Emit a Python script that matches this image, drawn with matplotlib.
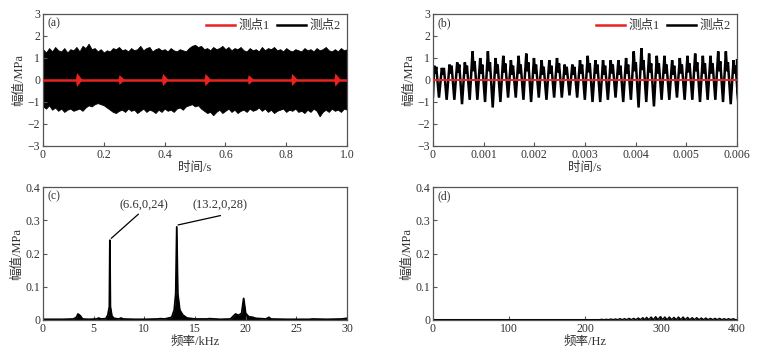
import matplotlib
matplotlib.use("Agg")
import matplotlib.pyplot as plt
import numpy as np

plt.rcParams['font.family'] = ['Liberation Serif', 'Noto Sans CJK SC']
plt.rcParams['axes.unicode_minus'] = True

# ---------------- data ----------------
# (a) envelope of 测点2 signal (t = 0..1 s, step 0.01)
a_time = [i / 100 for i in range(101)]
a_upper = [1.40,1.25,1.45,1.30,1.50,1.35,1.30,1.45,1.25,1.40,
           1.35,1.50,1.30,1.55,1.45,1.65,1.40,1.45,1.30,1.40,
           1.25,1.35,1.30,1.45,1.40,1.50,1.35,1.40,1.30,1.45,
           1.35,1.40,1.55,1.35,1.45,1.50,1.30,1.40,1.45,1.35,
           1.40,1.30,1.45,1.35,1.30,1.40,1.35,1.30,1.45,1.55,
           1.60,1.50,1.55,1.40,1.45,1.35,1.50,1.40,1.45,1.55,
           1.40,1.50,1.35,1.45,1.40,1.50,1.35,1.30,1.45,1.35,
           1.40,1.30,1.50,1.35,1.45,1.40,1.50,1.35,1.40,1.30,
           1.45,1.35,1.30,1.40,1.35,1.30,1.45,1.35,1.40,1.30,
           1.45,1.35,1.40,1.50,1.35,1.30,1.40,1.30,1.45,1.35,1.40]
a_lower = [-1.20,-1.30,-1.15,-1.35,-1.25,-1.40,-1.30,-1.45,-1.35,-1.30,
           -1.40,-1.35,-1.30,-1.40,-1.25,-1.15,-1.20,-1.10,-1.05,-1.10,
           -1.15,-1.25,-1.35,-1.45,-1.50,-1.40,-1.35,-1.45,-1.30,-1.40,
           -1.35,-1.50,-1.40,-1.30,-1.45,-1.35,-1.40,-1.50,-1.35,-1.45,
           -1.30,-1.40,-1.35,-1.45,-1.30,-1.25,-1.35,-1.20,-1.15,-1.10,
           -1.20,-1.15,-1.30,-1.40,-1.50,-1.45,-1.60,-1.45,-1.35,-1.50,
           -1.40,-1.30,-1.45,-1.35,-1.50,-1.40,-1.35,-1.45,-1.30,-1.40,
           -1.35,-1.25,-1.40,-1.30,-1.45,-1.35,-1.50,-1.40,-1.35,-1.30,
           -1.45,-1.35,-1.40,-1.30,-1.45,-1.40,-1.50,-1.35,-1.45,-1.30,
           -1.40,-1.65,-1.45,-1.35,-1.45,-1.30,-1.40,-1.35,-1.45,-1.30,-1.35]
# 测点1 pulses in (a)
a_pulse_times = [0.11, 0.25, 0.393, 0.533, 0.675, 0.818, 0.96]
a_pulse_amps = [0.32, 0.22, 0.28, 0.28, 0.22, 0.28, 0.30]

# (b) 测点2 waveform per cycle (fundamental 6.6 kHz)
b_f0 = 6.6e3
b_peaks = [0.65, 0.55, 0.70, 0.80, 0.80, 1.30, 1.00, 1.30, 1.00, 1.10,
           0.90, 1.10, 1.20, 1.00, 0.90, 0.90, 1.00, 0.70, 0.70, 0.90,
           1.10, 0.90, 0.90, 0.90, 0.90, 1.00, 1.30, 1.45, 1.20, 1.10,
           1.10, 0.90, 1.00, 1.10, 1.20, 1.10, 1.10, 1.30, 1.30, 0.90]
b_dips = [0.30, 0.25, 0.30, 0.35, 0.30, 0.40, 0.30, 0.40, 0.30, 0.35,
          0.25, 0.30, 0.40, 0.30, 0.25, 0.30, 0.35, 0.25, 0.25, 0.30,
          0.35, 0.30, 0.25, 0.30, 0.25, 0.30, 0.40, 0.45, 0.35, 0.30,
          0.30, 0.25, 0.30, 0.35, 0.40, 0.30, 0.30, 0.40, 0.40, 0.30]
b_bumps = [0.60, 0.55, 0.65, 0.70, 0.65, 0.85, 0.70, 0.80, 0.70, 0.75,
           0.65, 0.70, 0.80, 0.70, 0.60, 0.65, 0.75, 0.60, 0.60, 0.70,
           0.75, 0.70, 0.65, 0.70, 0.65, 0.70, 0.80, 0.90, 0.75, 0.75,
           0.70, 0.65, 0.70, 0.75, 0.80, 0.75, 0.75, 0.85, 0.80, 0.65]
b_troughs = [-0.80, -0.90, -0.90, -1.10, -0.90, -0.90, -1.00, -1.25, -1.00, -0.80,
             -0.80, -0.90, -1.00, -0.80, -0.90, -0.80, -0.80, -0.70, -0.80, -0.90,
             -1.00, -1.00, -0.90, -0.80, -1.00, -0.90, -1.25, -1.00, -1.20, -0.90,
             -0.90, -0.80, -0.90, -0.90, -1.00, -0.90, -0.90, -1.00, -1.10, -1.10]

# (c) spectrum of 测点2 (kHz, MPa)
c_freq = [0, 1.0, 2.0, 3.0, 3.3, 3.45, 3.55, 3.7, 3.9, 4.5,
          5.3, 5.5, 5.7, 6.2, 6.4, 6.55, 6.6, 6.65, 6.8, 7.0,
          7.5, 7.7, 7.9, 9.0, 10.0, 11.3, 11.6, 12.0, 12.7, 12.95,
          13.1, 13.2, 13.3, 13.5, 13.8, 14.2, 15.0, 16.2, 16.4, 17.5,
          18.5, 18.8, 19.0, 19.3, 19.6, 19.8, 20.0, 20.3, 20.7, 21.0,
          22.0, 22.3, 22.5, 24.0, 26.3, 26.6, 28.0, 29.5, 30.0]
c_amp = [0.002, 0.002, 0.002, 0.003, 0.008, 0.018, 0.016, 0.012, 0.003, 0.002,
         0.003, 0.006, 0.003, 0.004, 0.015, 0.040, 0.240, 0.040, 0.012, 0.005,
         0.003, 0.006, 0.003, 0.002, 0.002, 0.003, 0.004, 0.003, 0.008, 0.030,
         0.080, 0.280, 0.080, 0.030, 0.015, 0.006, 0.003, 0.003, 0.004, 0.002,
         0.003, 0.012, 0.018, 0.014, 0.020, 0.065, 0.020, 0.010, 0.008, 0.005,
         0.003, 0.008, 0.003, 0.002, 0.002, 0.003, 0.002, 0.003, 0.005]
c_annotations = [("(6.6,0,24)", 6.6, 0.24), ("(13.2,0,28)", 13.2, 0.28)]

# (d) spectrum of 测点1 (Hz, MPa)
d_base = 0.001
d_peak_freq = [222, 228, 234, 240, 246, 252, 258, 264, 270, 276,
               281, 287, 293, 299, 305, 311, 317, 323, 329, 335,
               341, 347, 353, 359, 365, 371, 377, 383, 389, 395]
d_peak_amp = [0.002, 0.002, 0.003, 0.003, 0.004, 0.004, 0.005, 0.005, 0.006, 0.007,
              0.008, 0.009, 0.010, 0.010, 0.009, 0.009, 0.008, 0.009, 0.009, 0.008,
              0.007, 0.007, 0.006, 0.006, 0.005, 0.005, 0.005, 0.004, 0.004, 0.004]

# ---------------- figure ----------------
W, H = 761, 357
fig = plt.figure(figsize=(W / 100, H / 100), dpi=100)

def ax_at(x0, y0, x1, y1):
    return fig.add_axes([x0 / W, 1 - y1 / H, (x1 - x0) / W, (y1 - y0) / H])

axa = ax_at(43, 14, 347, 146)
axb = ax_at(433, 14, 737, 146)
axc = ax_at(43, 187, 347, 320)
axd = ax_at(433, 187, 737, 320)

TC = '#333333'
FS = 8.5
for ax in (axa, axb, axc, axd):
    for s in ax.spines.values():
        s.set_color('#555555')
        s.set_linewidth(0.9)
    ax.tick_params(direction='in', length=3, width=0.8, colors='#555555',
                   labelcolor=TC, labelsize=FS, pad=2, top=False, right=False)

red = '#e8231f'

# (a)
axa.fill_between(a_time, a_lower, a_upper, color='black', linewidth=0.6, edgecolor='black')
axa.axhline(0, color=red, lw=1.8, zorder=3)
for t, amp in zip(a_pulse_times, a_pulse_amps):
    axa.fill([t - 0.002, t + 0.002, t + 0.02, t + 0.002], [0, amp, 0, -amp],
             color=red, lw=0, zorder=4)
axa.set_xlim(0, 1.0)
axa.set_ylim(-3, 3)
axa.set_xticks([0, 0.2, 0.4, 0.6, 0.8, 1.0])
axa.set_xticklabels(['0', '0.2', '0.4', '0.6', '0.8', '1.0'])
axa.set_yticks(range(-3, 4))

# (b)
T = 1 / b_f0
bt, bv = [0.0], [-0.75]
for k in range(len(b_peaks)):
    bt += [(k + 0.15) * T, (k + 0.30) * T, (k + 0.42) * T, (k + 0.78) * T]
    bv += [b_peaks[k], b_dips[k], b_bumps[k], b_troughs[k]]
bt.append(0.006)
bv.append(0.9)
axb.plot(bt, bv, color='black', lw=1.8, solid_joinstyle='miter')
axb.axhline(0, color=red, lw=1.4, zorder=3)
axb.set_xlim(0, 0.006)
axb.set_ylim(-3, 3)
axb.set_xticks([0, 0.001, 0.002, 0.003, 0.004, 0.005, 0.006])
axb.set_xticklabels(['0', '0.001', '0.002', '0.003', '0.004', '0.005', '0.006'])
axb.set_yticks(range(-3, 4))

for ax in (axa, axb):
    ax.plot([], [], color=red, lw=1.8, label='测点1')
    ax.plot([], [], color='black', lw=1.8, label='测点2')
    ax.legend(loc='upper right', ncol=2, frameon=False, fontsize=9,
              handlelength=2.3, handletextpad=0.3, columnspacing=0.6,
              borderaxespad=0.1, labelcolor=TC)
    ax.set_xlabel('时间/s', fontsize=9, color=TC, labelpad=1)
    ax.set_ylabel('幅值/MPa', fontsize=9, color=TC, labelpad=2)

# (c)
axc.fill_between(c_freq, 0, c_amp, color='black', lw=0)
axc.plot(c_freq, c_amp, color='black', lw=1.3)
axc.set_xlim(0, 30)
axc.set_ylim(0, 0.4)
axc.set_xticks([0, 5, 10, 15, 20, 25, 30])
axc.set_yticks([0, 0.1, 0.2, 0.3, 0.4])
axc.set_yticklabels(['0', '0.1', '0.2', '0.3', '0.4'])
txt_pos = [(10.0, 0.344), (17.5, 0.344)]
line_end = [(9.4, 0.318), (17.5, 0.314)]
for (label, fx, fy), (tx, ty), (lx, ly) in zip(c_annotations, txt_pos, line_end):
    axc.text(tx, ty, label, fontsize=9, color=TC, ha='center', va='center')
    axc.plot([fx + 0.15, lx], [fy + 0.006, ly], color='black', lw=0.9)
axc.set_xlabel('频率/kHz', fontsize=9, color=TC, labelpad=1)
axc.set_ylabel('幅值/MPa', fontsize=9, color=TC, labelpad=2)

# (d)
dx, dy = [0, d_peak_freq[0] - 3], [d_base, d_base]
for f, a in zip(d_peak_freq, d_peak_amp):
    dx += [f, f + 3]
    dy += [a, d_base]
dx.append(400)
dy.append(d_base)
axd.fill_between(dx, 0, dy, color='black', lw=0)
axd.plot(dx, dy, color='black', lw=1.0)
axd.set_xlim(0, 400)
axd.set_ylim(0, 0.4)
axd.set_xticks([0, 100, 200, 300, 400])
axd.set_yticks([0, 0.1, 0.2, 0.3, 0.4])
axd.set_yticklabels(['0', '0.1', '0.2', '0.3', '0.4'])
axd.set_xlabel('频率/Hz', fontsize=9, color=TC, labelpad=1)
axd.set_ylabel('幅值/MPa', fontsize=9, color=TC, labelpad=2)

for ax, lab in zip((axa, axb, axc, axd), ('(a)', '(b)', '(c)', '(d)')):
    ax.text(0.015, 0.93, lab, transform=ax.transAxes, fontsize=8.5, color=TC,
            ha='left', va='center')

fig.savefig('out.png', dpi=100)
